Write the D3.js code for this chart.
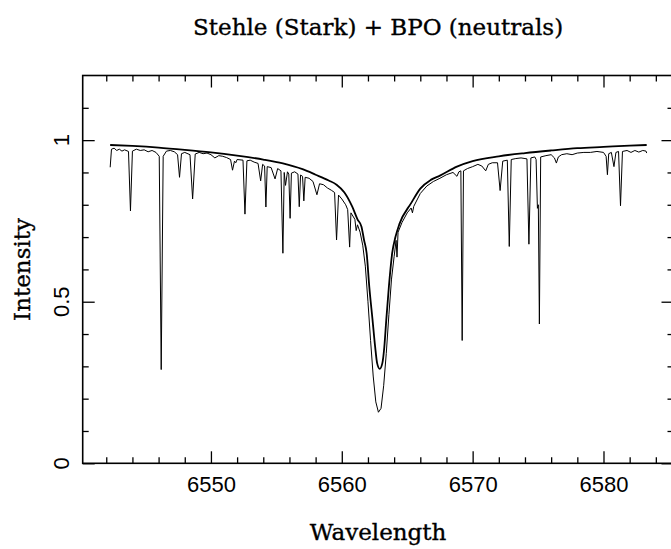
<!DOCTYPE html>
<html>
<head>
<meta charset="utf-8">
<script src="https://cdn.jsdelivr.net/npm/d3@7"></script>
<style>
    body { margin: 0; background: #fff; }
    .serif { font-family: "DejaVu Serif", serif; fill: #000; stroke: #000; stroke-width: 0.35px; }
    .tick-label { font-family: "Liberation Sans", Arial, sans-serif; font-size: 22px; fill: #000; }
</style>
</head>
<body>
<svg width="671" height="549"></svg>
<script>
// Stark profile (smooth curve)
var starkWave = [6542.3, 6544, 6546, 6548, 6550, 6552, 6554, 6555.5, 6557, 6558, 6559, 6559.6, 6560.2,
    6560.8, 6561.2, 6561.5, 6561.7, 6561.9, 6562.1, 6562.35, 6562.55, 6562.7, 6562.9, 6563.1, 6563.25,
    6563.4, 6563.6, 6563.85, 6564.1, 6564.4, 6565.3, 6566, 6566.8, 6567.5, 6568.8, 6570, 6572, 6574,
    6576, 6578, 6580, 6582, 6583.3];
var starkFlux = [0.985, 0.982, 0.977, 0.970, 0.962, 0.952, 0.940, 0.928, 0.910, 0.893, 0.875, 0.862, 0.838,
    0.794, 0.755, 0.733, 0.691, 0.650, 0.547, 0.444, 0.360, 0.310, 0.292, 0.310, 0.360,
    0.444, 0.547, 0.650, 0.700, 0.740, 0.805, 0.850, 0.877, 0.890, 0.918, 0.935, 0.950, 0.960,
    0.968, 0.975, 0.979, 0.983, 0.985];

// Stark + neutral lines (thin curve)
var specWave = [6542.3, 6542.4, 6542.6, 6542.8, 6543.0, 6543.2, 6543.4, 6543.7, 6543.85, 6544.0, 6544.3,
    6544.6, 6544.9, 6545.2, 6545.5, 6545.8, 6546.05, 6546.2, 6546.35, 6546.6, 6546.9, 6547.2, 6547.45,
    6547.6, 6547.75, 6548.0, 6548.4, 6548.6, 6548.8, 6549.1, 6549.4, 6549.7, 6550.0, 6550.3, 6550.6,
    6550.9, 6551.2, 6551.5, 6551.65, 6551.8, 6551.9, 6552.0, 6552.45, 6552.6, 6552.75, 6553.0, 6553.3,
    6553.6, 6553.8, 6553.95, 6554.1, 6554.2, 6554.3, 6554.6, 6554.9, 6555.1, 6555.35, 6555.5, 6555.6,
    6555.7, 6555.85, 6555.95, 6556.05, 6556.15, 6556.4, 6556.65, 6556.75, 6556.85, 6557.0, 6557.1,
    6557.2, 6557.5, 6557.8, 6558.1, 6558.3, 6558.6, 6558.9, 6559.2, 6559.45, 6559.6, 6559.75, 6560.0,
    6560.3, 6560.45, 6560.6, 6560.7, 6561.0, 6561.1, 6561.2, 6561.4, 6561.6, 6561.8, 6562.0, 6562.2,
    6562.4, 6562.6, 6562.8, 6563.0, 6563.2, 6563.4, 6563.6, 6563.8, 6564.0, 6564.15, 6564.22, 6564.3,
    6564.6, 6565.0, 6565.3, 6565.4, 6565.5, 6566.0, 6566.5, 6567.0, 6567.5, 6568.0, 6568.5, 6568.8,
    6568.95, 6569.1, 6569.2, 6569.3, 6569.6, 6570.0, 6570.4, 6570.7, 6571.0, 6571.2, 6571.5, 6571.9,
    6572.1, 6572.3, 6572.65, 6572.8, 6572.95, 6573.3, 6573.7, 6574.0, 6574.15, 6574.3, 6574.45, 6574.75,
    6574.85, 6574.95, 6575.02, 6575.1, 6575.2, 6575.6, 6576.0, 6576.25, 6576.4, 6576.55, 6576.8, 6577.2,
    6577.6, 6578.0, 6578.5, 6579.0, 6579.5, 6580.0, 6580.2, 6580.3, 6580.4, 6580.6, 6580.8, 6580.95,
    6581.15, 6581.3, 6581.45, 6581.8, 6582.1, 6582.4, 6582.7, 6583.0, 6583.25, 6583.3];
var specFlux = [0.916, 0.972, 0.975, 0.968, 0.972, 0.966, 0.970, 0.965, 0.781, 0.966, 0.972,
    0.968, 0.970, 0.964, 0.968, 0.962, 0.950, 0.290, 0.950, 0.966, 0.968, 0.964, 0.955,
    0.885, 0.958, 0.962, 0.955, 0.818, 0.957, 0.962, 0.958, 0.960, 0.955, 0.945, 0.952,
    0.950, 0.946, 0.940, 0.907, 0.935, 0.930, 0.940, 0.938, 0.771, 0.936, 0.938, 0.932,
    0.928, 0.874, 0.925, 0.920, 0.793, 0.918, 0.915, 0.880, 0.912, 0.905, 0.650, 0.900,
    0.860, 0.902, 0.895, 0.758, 0.898, 0.902, 0.895, 0.794, 0.892, 0.888, 0.812,
    0.885, 0.882, 0.872, 0.831, 0.865, 0.862, 0.852, 0.845, 0.838, 0.691, 0.830, 0.818,
    0.800, 0.785, 0.669, 0.775, 0.755, 0.720, 0.738, 0.715, 0.675, 0.610, 0.500, 0.380,
    0.270, 0.190, 0.158, 0.170, 0.240, 0.340, 0.460, 0.570, 0.640, 0.690, 0.638, 0.715,
    0.745, 0.775, 0.790, 0.775, 0.795, 0.835, 0.858, 0.872, 0.882, 0.893, 0.900, 0.888,
    0.902, 0.905, 0.380, 0.905, 0.912, 0.918, 0.925, 0.920, 0.905, 0.925, 0.930, 0.930,
    0.844, 0.935, 0.938, 0.671, 0.940, 0.943, 0.945, 0.943, 0.942, 0.678, 0.945, 0.948,
    0.940, 0.789, 0.800, 0.431, 0.948, 0.952, 0.955, 0.945, 0.929, 0.948, 0.955, 0.958,
    0.955, 0.960, 0.962, 0.962, 0.965, 0.962, 0.950, 0.893, 0.958, 0.962, 0.918, 0.962,
    0.965, 0.797, 0.965, 0.968, 0.962, 0.968, 0.963, 0.968, 0.966, 0.960];

var xMajorTicks = [6550, 6560, 6570, 6580];
var yMajorTicks = [0, 0.5, 1];

var svg, margin, width, height, xScale, yScale, g;

function initLayout() {
    svg = d3.select("svg");
    margin = {top: 75.5, right: -2.5, bottom: 85.7, left: 82.7};
    width = +svg.attr("width") - margin.left - margin.right;
    height = +svg.attr("height") - margin.top - margin.bottom;

    xScale = d3.scaleLinear().domain([6540.2, 6585.35]).range([0, width]);
    yScale = d3.scaleLinear().domain([0, 1.2]).range([height, 0]);

    g = svg.append("g")
        .attr("transform", "translate(" + margin.left + "," + margin.top + ")");

    g.append("clipPath").attr("id", "plotClip")
        .append("rect").attr("width", width).attr("height", height);
}

function drawAxes() {
    var xMinor = d3.range(6542, 6586, 2).filter(function (d) { return d % 10 !== 0; });
    var yMinor = d3.range(1, 12).map(function (d) { return d / 10; }).filter(function (d) { return d !== 0.5 && d !== 1; });

    function style(sel) {
        sel.select(".domain").remove();
        sel.selectAll("line").attr("stroke", "#000").attr("stroke-width", 1.3);
    }

    // bottom
    g.append("g").attr("transform", "translate(0," + height + ")")
        .call(d3.axisBottom(xScale).tickValues(xMajorTicks).tickSize(-12).tickPadding(13).tickFormat(d3.format("d")))
        .call(style)
        .selectAll("text").attr("class", "tick-label").attr("font-size", null).attr("font-family", null);
    g.append("g").attr("transform", "translate(0," + height + ")")
        .call(d3.axisBottom(xScale).tickValues(xMinor).tickSize(-6).tickFormat(""))
        .call(style);
    // top
    g.append("g")
        .call(d3.axisTop(xScale).tickValues(xMajorTicks).tickSize(-12).tickFormat(""))
        .call(style);
    g.append("g")
        .call(d3.axisTop(xScale).tickValues(xMinor).tickSize(-6).tickFormat(""))
        .call(style);
    // left
    g.append("g")
        .call(d3.axisLeft(yScale).tickValues(yMajorTicks).tickSize(-12).tickFormat(""))
        .call(style);
    g.append("g")
        .call(d3.axisLeft(yScale).tickValues(yMinor).tickSize(-6).tickFormat(""))
        .call(style);
    // right
    g.append("g").attr("transform", "translate(" + width + ",0)")
        .call(d3.axisRight(yScale).tickValues(yMajorTicks).tickSize(-12).tickFormat(""))
        .call(style);
    g.append("g").attr("transform", "translate(" + width + ",0)")
        .call(d3.axisRight(yScale).tickValues(yMinor).tickSize(-6).tickFormat(""))
        .call(style);

    // rotated y tick labels
    g.selectAll(".ylab")
        .data(yMajorTicks)
        .enter().append("text")
        .attr("class", "tick-label")
        .attr("transform", function (d) { return "translate(" + [-14, yScale(d)] + ") rotate(-90)"; })
        .attr("text-anchor", "middle")
        .text(function (d) { return String(d); });

    // frame
    g.append("rect")
        .attr("width", width).attr("height", height)
        .attr("fill", "none").attr("stroke", "#000").attr("stroke-width", 1.6);
}

function plotData() {
    var stark = starkWave.map(function (w, i) { return [w, starkFlux[i]]; });
    var spec = specWave.map(function (w, i) { return [w, specFlux[i]]; });
    var line = d3.line()
        .x(function (d) { return xScale(d[0]); })
        .y(function (d) { return yScale(d[1]); })
        .curve(d3.curveMonotoneX);

    var area = g.append("g").attr("clip-path", "url(#plotClip)");
    area.append("path").datum(spec)
        .attr("d", d3.line().x(function (d) { return xScale(d[0]); }).y(function (d) { return yScale(d[1]); }))
        .attr("fill", "none").attr("stroke", "#000").attr("stroke-width", 1);
    area.append("path").datum(stark)
        .attr("d", line)
        .attr("fill", "none").attr("stroke", "#000").attr("stroke-width", 1.8);
}

function drawTitles() {
    var cx = margin.left + width / 2;
    svg.append("text").attr("class", "serif")
        .attr("x", cx).attr("y", 35)
        .attr("text-anchor", "middle").attr("font-size", 23)
        .text("Stehle (Stark) + BPO (neutrals)");
    svg.append("text").attr("class", "serif")
        .attr("x", cx).attr("y", 540)
        .attr("text-anchor", "middle").attr("font-size", 23)
        .text("Wavelength");
    svg.append("text").attr("class", "serif")
        .attr("transform", "translate(" + [30, margin.top + height / 2] + ") rotate(-90)")
        .attr("text-anchor", "middle").attr("font-size", 23)
        .text("Intensity");
}

initLayout();
drawAxes();
plotData();
drawTitles();
</script>
</body>
</html>
